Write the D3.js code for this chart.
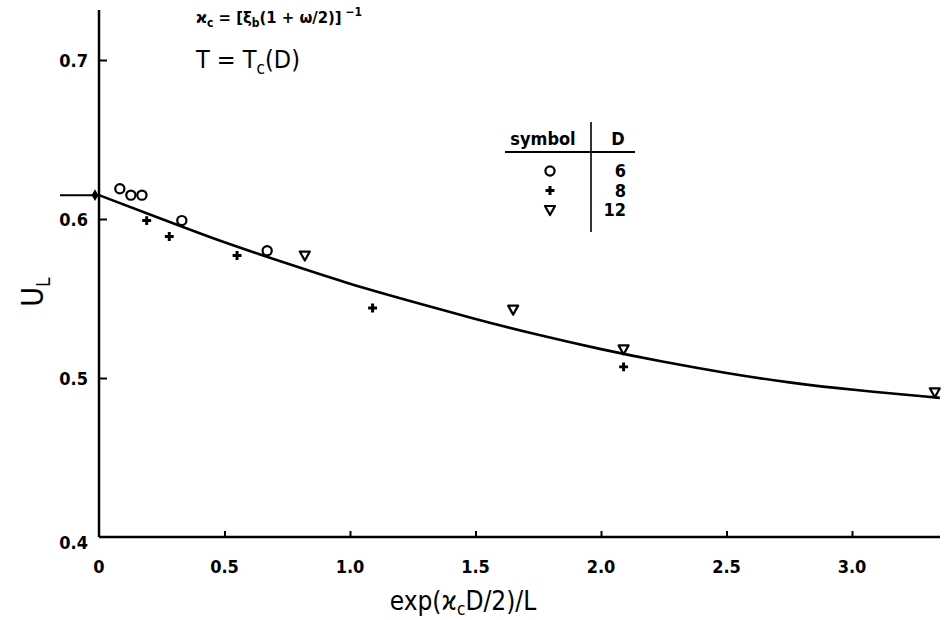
<!DOCTYPE html>
<html><head><meta charset="utf-8">
<script src="https://cdn.jsdelivr.net/npm/d3@7/dist/d3.min.js"></script>
<style>
body{margin:0;background:#fff;}
text{font-family:"DejaVu Sans Condensed","Liberation Sans Narrow","DejaVu Sans",sans-serif;fill:#000;}
</style></head>
<body><svg id="c" width="944" height="620"></svg>
<script>
// Data
const xTicks = [0, 0.5, 1.0, 1.5, 2.0, 2.5, 3.0];
const xTickLabels = ["0", "0.5", "1.0", "1.5", "2.0", "2.5", "3.0"];
const yTicks = [0.4, 0.5, 0.6, 0.7];
const yTickLabels = ["0.4", "0.5", "0.6", "0.7"];
const circlesD6 = [[0.083,0.619],[0.127,0.615],[0.171,0.615],[0.33,0.599],[0.67,0.580]];
const plusD8 = [[0.19,0.599],[0.28,0.589],[0.55,0.577],[1.09,0.544],[2.09,0.507]];
const triD12 = [[0.82,0.577],[1.65,0.543],[2.09,0.518],[3.33,0.491]];
const curve = [[0,0.615],[0.25,0.600],[0.5,0.585],[0.75,0.572],[1.0,0.559],[1.25,0.548],[1.5,0.537],[1.75,0.527],[2.0,0.518],[2.25,0.510],[2.5,0.503],[2.75,0.497],[3.0,0.4925],[3.35,0.4875]];
const limitPoint = [0, 0.615];
const legendRows = [{sym:"circle", D:"6"},{sym:"plus", D:"8"},{sym:"tri", D:"12"}];

const svg = d3.select("#c");
const x = d3.scaleLinear().domain([0, 1]).range([99, 350]);
const y = d3.scaleLinear().domain([0.4, 0.7]).range([537, 60]);
const xMax = x.invert(940), yTop = y.invert(10);

// axes
const gx = svg.append("g").attr("transform", `translate(0,${y(0.4)})`)
  .call(d3.axisBottom(x).tickValues(xTicks.slice(1)).tickSize(-6).tickFormat(""));
gx.select(".domain").remove();
gx.selectAll("line").attr("stroke","#000").attr("stroke-width",2);
svg.append("line").attr("x1",x(0)).attr("x2",x(xMax)).attr("y1",y(0.4)).attr("y2",y(0.4)).attr("stroke","#000").attr("stroke-width",2.5);
svg.append("line").attr("x1",x(0)).attr("x2",x(0)).attr("y1",y(0.4)).attr("y2",y(yTop)).attr("stroke","#000").attr("stroke-width",2.5);
const gy = svg.append("g").attr("transform", `translate(${x(0)},0)`)
  .call(d3.axisRight(y).tickValues(yTicks.slice(1)).tickSize(8).tickFormat(""));
gy.select(".domain").remove();
gy.selectAll("line").attr("stroke","#000").attr("stroke-width",2);

svg.selectAll(".xl").data(xTicks).enter().append("text")
  .attr("x", d=>x(d)).attr("y", y(0.4)+36).attr("text-anchor","middle")
  .attr("font-size",18).attr("font-weight","bold").text((d,i)=>xTickLabels[i]);
svg.selectAll(".yl").data(yTicks).enter().append("text")
  .attr("x", x(0)-11).attr("y", d=>y(d)+ (d===0.4?12:7)).attr("text-anchor","end")
  .attr("font-size",18).attr("font-weight","bold").text((d,i)=>yTickLabels[i]);

// axis titles
const xt = svg.append("text").attr("x",463).attr("y",610).attr("text-anchor","middle").attr("font-size",26);
xt.append("tspan").text("exp(ϰ");
xt.append("tspan").attr("font-size",17).attr("dy",5).text("c");
xt.append("tspan").attr("dy",-5).text("D/2)/L");
const yt = svg.append("text").attr("transform","translate(43,292) rotate(-90)").attr("text-anchor","middle").attr("font-size",30);
yt.append("tspan").text("U");
yt.append("tspan").attr("font-size",19).attr("dy",7).text("L");

// annotations
const a1 = svg.append("text").attr("x",196).attr("y",23).attr("font-size",16.5).attr("font-weight","bold");
a1.append("tspan").text("ϰ");
a1.append("tspan").attr("font-size",12).attr("dy",4).text("c");
a1.append("tspan").attr("dy",-4).text(" = [ξ");
a1.append("tspan").attr("font-size",12).attr("dy",4).text("b");
a1.append("tspan").attr("dy",-4).text("(1 + ω/2)]");
a1.append("tspan").attr("font-size",12).attr("dy",-7).text(" −1");
const a2 = svg.append("text").attr("x",196).attr("y",68).attr("font-size",25);
a2.append("tspan").text("T = T");
a2.append("tspan").attr("font-size",17).attr("dy",6).text("c");
a2.append("tspan").attr("dy",-6).text("(D)");

// curve
svg.append("path").datum(curve).attr("fill","none").attr("stroke","#000").attr("stroke-width",2.6)
  .attr("d", d3.line().x(d=>x(d[0])).y(d=>y(d[1])).curve(d3.curveBasis));

// limit arrow at x=0
svg.append("line").attr("x1",60).attr("x2",x(limitPoint[0])).attr("y1",y(limitPoint[1])).attr("y2",y(limitPoint[1])).attr("stroke","#000").attr("stroke-width",2);
svg.append("path").attr("d", d3.symbol(d3.symbolDiamond, 40)()).attr("transform",`translate(${x(limitPoint[0])-4},${y(limitPoint[1])})`).attr("fill","#000");

// markers
function drawSym(g, type, cx, cy){
  if(type==="circle") g.append("circle").attr("cx",cx).attr("cy",cy).attr("r",4.6).attr("fill","#fff").attr("stroke","#000").attr("stroke-width",2.2);
  else if(type==="plus") g.append("path").attr("d", d3.symbol(d3.symbolCross, 44)()).attr("transform",`translate(${cx},${cy})`).attr("fill","#000");
  else g.append("path").attr("d","M-5,-4L5,-4L0,5Z").attr("transform",`translate(${cx},${cy})`).attr("fill","#fff").attr("stroke","#000").attr("stroke-width",2.2).attr("stroke-linejoin","round");
}
const gm = svg.append("g");
circlesD6.forEach(d=>drawSym(gm,"circle",x(d[0]),y(d[1])));
plusD8.forEach(d=>drawSym(gm,"plus",x(d[0]),y(d[1])));
triD12.forEach(d=>drawSym(gm,"tri",x(d[0]),y(d[1])));

// legend table
const lg = svg.append("g");
lg.append("text").attr("x",543).attr("y",145).attr("text-anchor","middle").attr("font-size",18).attr("font-weight","bold").text("symbol");
lg.append("text").attr("x",618).attr("y",145).attr("text-anchor","middle").attr("font-size",18).attr("font-weight","bold").text("D");
lg.append("line").attr("x1",505).attr("x2",635).attr("y1",152).attr("y2",152).attr("stroke","#000").attr("stroke-width",2);
lg.append("line").attr("x1",591).attr("x2",591).attr("y1",122).attr("y2",232).attr("stroke","#000").attr("stroke-width",1.6);
legendRows.forEach((r,i)=>{
  const cy = 171 + i*19.5;
  drawSym(lg, r.sym, 550, cy);
  lg.append("text").attr("x",626).attr("y",cy+6).attr("text-anchor","end").attr("font-size",18).attr("font-weight","bold").text(r.D);
});
</script></body></html>
